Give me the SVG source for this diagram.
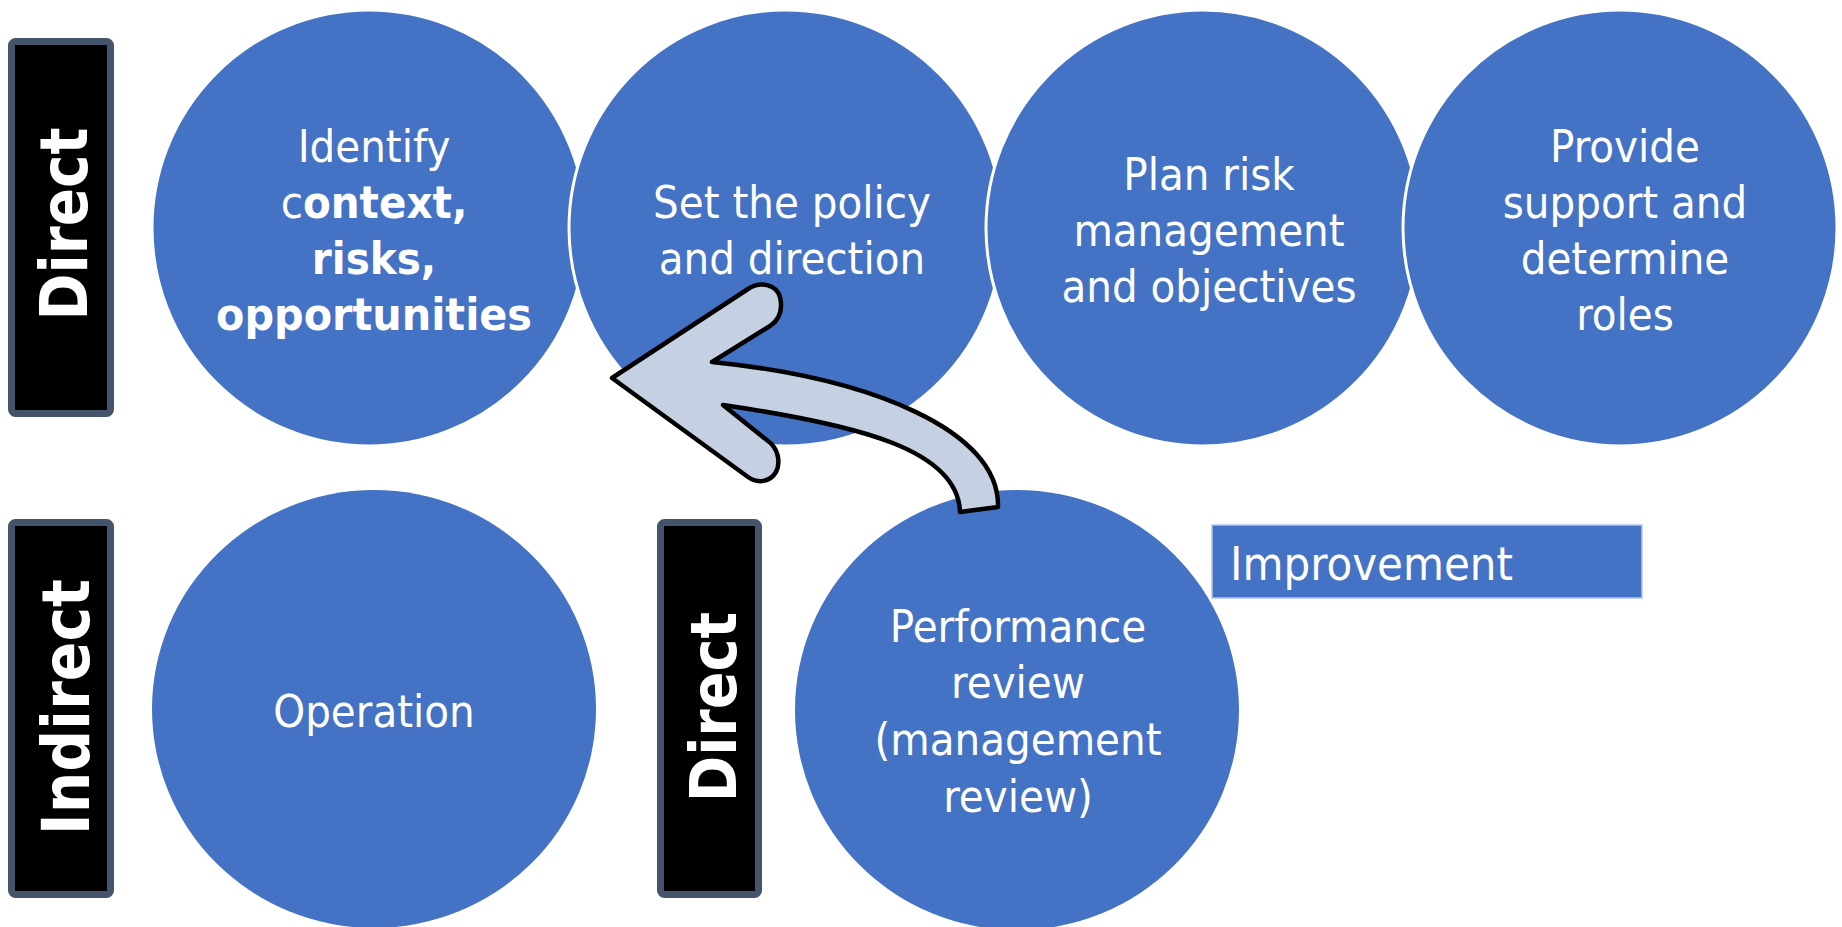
<svg xmlns="http://www.w3.org/2000/svg" width="1842" height="927" viewBox="0 0 1842 927">
<style>
.circ{fill:#4472C4;stroke:#FFFFFF;stroke-width:3}
.lbl{fill:#000000;stroke:#44546A;stroke-width:7}
.side{font-family:"DejaVu Sans Condensed","DejaVu Sans",sans-serif;font-weight:bold;font-size:66px;fill:#FFFFFF}
.t{font-family:"DejaVu Sans Condensed","DejaVu Sans",sans-serif;font-size:45px;fill:#FFFFFF;text-anchor:middle}
.b{font-weight:bold}
.arrow{fill:#C5D0E3;stroke:#000000;stroke-width:4.5;stroke-linejoin:round}
</style>
<rect width="1842" height="927" fill="#FFFFFF"/>

<g id="label-direct-top">
<rect class="lbl" x="11.5" y="41.5" width="99" height="372" rx="4"/>
<text class="side" transform="translate(87,224) rotate(-90)" text-anchor="middle" textLength="193" lengthAdjust="spacingAndGlyphs">Direct</text>
</g>

<g id="node-identify">
<ellipse class="circ" cx="369" cy="228" rx="217" ry="218"/>
<text class="t" x="374" y="162">Identify</text>
<text class="t" x="374" y="218">c<tspan class="b">ontext,</tspan></text>
<text class="t b" x="374" y="274">risks,</text>
<text class="t b" x="374" y="330" textLength="316" lengthAdjust="spacingAndGlyphs">opportunities</text>
</g>

<g id="node-policy">
<ellipse class="circ" cx="786" cy="228" rx="217" ry="218"/>
<text class="t" x="792" y="218">Set the policy</text>
<text class="t" x="792" y="274">and direction</text>
</g>

<g id="node-plan">
<ellipse class="circ" cx="1203" cy="228" rx="217" ry="218"/>
<text class="t" x="1209" y="190">Plan risk</text>
<text class="t" x="1209" y="246">management</text>
<text class="t" x="1209" y="302">and objectives</text>
</g>

<g id="node-support">
<ellipse class="circ" cx="1620" cy="228" rx="217" ry="218"/>
<text class="t" x="1625" y="162">Provide</text>
<text class="t" x="1625" y="218">support and</text>
<text class="t" x="1625" y="274">determine</text>
<text class="t" x="1625" y="330">roles</text>
</g>

<g id="label-indirect">
<rect class="lbl" x="11.5" y="522.5" width="99" height="372" rx="4"/>
<text class="side" transform="translate(89,707) rotate(-90)" text-anchor="middle" textLength="256" lengthAdjust="spacingAndGlyphs">Indirect</text>
</g>

<g id="node-operation">
<ellipse fill="#4472C4" cx="374" cy="709" rx="222" ry="219"/>
<text class="t" x="374" y="727">Operation</text>
</g>

<g id="label-direct-bottom">
<rect class="lbl" x="660.5" y="522.5" width="98" height="372" rx="4"/>
<text class="side" style="font-size:64px" transform="translate(736,707) rotate(-90)" text-anchor="middle" textLength="190" lengthAdjust="spacingAndGlyphs">Direct</text>
</g>

<g id="node-performance">
<ellipse fill="#4472C4" cx="1017" cy="710" rx="222" ry="220"/>
<text class="t" x="1018" y="642">Performance</text>
<text class="t" x="1018" y="698">review</text>
<text class="t" x="1018" y="755">(management</text>
<text class="t" x="1018" y="812">review)</text>
</g>

<g id="node-improvement">
<rect x="1212" y="525" width="430" height="73" fill="#4472C4" stroke="#B4C7E7" stroke-width="1.5"/>
<text x="1230" y="580" textLength="283" lengthAdjust="spacingAndGlyphs" style="font-family:'DejaVu Sans Condensed','DejaVu Sans',sans-serif;font-size:47px;fill:#FFFFFF">Improvement</text>
</g>

<g id="connectors">
<path class="arrow" d="M 612 378 L 748 289 C 760 281, 776 284, 780 297 C 783 310, 779 320, 770 326 L 712 362 C 870 378, 1000 430, 998 507 L 960 512 C 958 450, 860 425, 723 405 L 768 441 C 778 448, 781 462, 776 472 C 770 482, 758 484, 748 477 Z"/>
</g>
</svg>
